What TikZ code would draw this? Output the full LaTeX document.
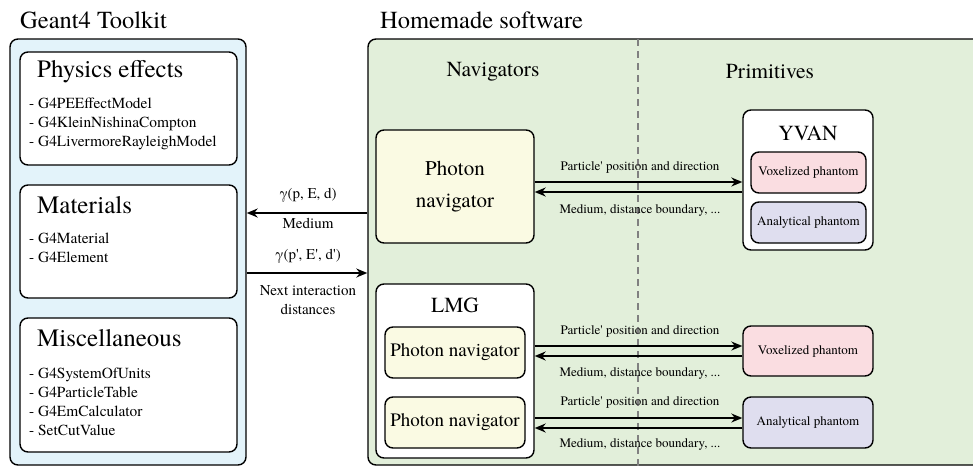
\documentclass[tikz,border=0pt]{standalone}
\usepackage{fontspec}
\setmainfont{texgyretermes-regular.otf}[Ligatures=TeXOff]
\usetikzlibrary{arrows.meta}
\newcommand{\fsz}[2]{\fontsize{#1}{#2}\selectfont}
\newcommand{\sq}{\char"0027\relax}
\definecolor{bluefill}{HTML}{E3F3FA}
\definecolor{greenfill}{HTML}{E2EFDA}
\definecolor{yellowfill}{HTML}{FAFAE3}
\definecolor{pinkfill}{HTML}{FADDE1}
\definecolor{lavfill}{HTML}{DFDEEF}
\definecolor{dashgray}{HTML}{808080}
\tikzset{
  box/.style={draw, line width=1.4pt, rounded corners=8pt, inner sep=0pt},
  arr/.style={line width=1.6pt, -{Stealth[length=11pt,width=9pt]}},
  lbl/.style={font=\fsz{13}{15}, inner sep=0pt},
  sidelbl/.style={font=\fsz{15}{19}, inner sep=0pt, align=center},
  title/.style={font=\fsz{24.5}{28}, inner sep=0pt, anchor=base west},
  head/.style={font=\fsz{25}{29}, inner sep=0pt, anchor=west},
  items/.style={font=\fsz{15.4}{19}, inner sep=0pt, anchor=west, align=left},
  sub/.style={font=\fsz{21.5}{25}, inner sep=0pt},
  phan/.style={font=\fsz{13}{15}, inner sep=0pt},
}
\begin{document}
\begin{tikzpicture}[x=1pt,y=-1pt]
\useasboundingbox (0,0) rectangle (973,466);
% titles
\node[title] (tGeant) at (20,28) {Geant4 Toolkit};
\node[title] (tHome) at (380,28) {Homemade software};
% outer boxes
\node[box, fill=bluefill, minimum width=236pt, minimum height=426pt] (blue) at (128,252) {};
\node[box, fill=greenfill, minimum width=620pt, minimum height=426pt] (green) at (678,252) {};
% dashed separator
\coordinate (dtop) at (638,39);
\coordinate (dbot) at (638,466);
\draw[dashgray, line width=1.4pt, dash pattern=on 7pt off 5pt] (dtop) -- (dbot);
% left inner boxes
\node[box, fill=white, minimum width=217pt, minimum height=113pt] (phys) at (128.5,108.5) {};
\node[head] (physT) at (37,72) {Physics effects};
\node[items] (physL) at (29,124) {- G4PEEffectModel\\- G4KleinNishinaCompton\\- G4LivermoreRayleighModel};
\node[box, fill=white, minimum width=217pt, minimum height=113pt] (mat) at (128.5,241.5) {};
\node[head] (matT) at (37,205) {Materials};
\node[items] (matL) at (29,247.5) {- G4Material\\- G4Element};
\node[box, fill=white, minimum width=217pt, minimum height=134pt] (misc) at (128.5,385) {};
\node[head] (miscT) at (37,338) {Miscellaneous};
\node[items] (miscL) at (29,401.5) {- G4SystemOfUnits\\- G4ParticleTable\\- G4EmCalculator\\- SetCutValue};
% column headings
\node[sub] (nav) at (493,72) {Navigators};
\node[sub] (prim) at (770,72) {Primitives};
% top photon navigator
\node[box, fill=yellowfill, minimum width=158pt, minimum height=113pt, align=center, font=\fsz{21}{32}] (pnav) at (455,186.5) {Photon\\navigator};
% YVAN
\node[box, fill=white, minimum width=130pt, minimum height=140pt] (yvan) at (808,180) {};
\node[sub] (yvanT) at (808,133) {YVAN};
\node[box, fill=pinkfill, minimum width=115pt, minimum height=41pt, phan] (yvox) at (808.5,172.5) {Voxelized phantom};
\node[box, fill=lavfill, minimum width=115pt, minimum height=41pt, phan] (yana) at (808.5,222.5) {Analytical phantom};
% LMG
\node[box, fill=white, minimum width=158pt, minimum height=174pt] (lmg) at (455,371) {};
\node[sub] (lmgT) at (455,305) {LMG};
\node[box, fill=yellowfill, minimum width=140pt, minimum height=51pt, font=\fsz{19}{22}] (pn1) at (455,352.5) {Photon navigator};
\node[box, fill=yellowfill, minimum width=140pt, minimum height=51pt, font=\fsz{19}{22}] (pn2) at (455,422.5) {Photon navigator};
\node[box, fill=pinkfill, minimum width=130pt, minimum height=50pt, phan] (bvox) at (808,351) {Voxelized phantom};
\node[box, fill=lavfill, minimum width=130pt, minimum height=51pt, phan] (bana) at (808,422.5) {Analytical phantom};
% Geant4 <-> homemade arrows
\coordinate (a1) at (300,213);
\coordinate (a2) at (300,273);
\draw[arr] (green.west |- a1) -- (blue.east |- a1);
\draw[arr] (blue.east |- a2) -- (green.west |- a2);
\node[sidelbl] (l1) at (308,195) {γ(p, E, d)};
\node[sidelbl] (l2) at (308,223) {Medium};
\node[sidelbl] (l3) at (308,256) {γ(p\sq, E\sq, d\sq)};
\node[sidelbl] (l4) at (308,300.5) {Next interaction\\distances};
% navigator <-> primitives arrows
\coordinate (r1) at (640,182);
\coordinate (r2) at (640,192);
\draw[arr] (pnav.east |- r1) -- (yvan.west |- r1);
\draw[arr] (yvan.west |- r2) -- (pnav.east |- r2);
\node[lbl] at (640,167) (t1) {Particle\sq{} position and direction};
\node[lbl] at (640,210) (t2) {Medium, distance boundary, ...};
\coordinate (r3) at (640,346);
\coordinate (r4) at (640,356);
\draw[arr] (lmg.east |- r3) -- (bvox.west |- r3);
\draw[arr] (bvox.west |- r4) -- (lmg.east |- r4);
\node[lbl] at (640,331) (t3) {Particle\sq{} position and direction};
\node[lbl] at (640,373) (t4) {Medium, distance boundary, ...};
\coordinate (r5) at (640,418);
\coordinate (r6) at (640,428);
\draw[arr] (lmg.east |- r5) -- (bana.west |- r5);
\draw[arr] (bana.west |- r6) -- (lmg.east |- r6);
\node[lbl] at (640,402) (t5) {Particle\sq{} position and direction};
\node[lbl] at (640,444) (t6) {Medium, distance boundary, ...};
\end{tikzpicture}
\end{document}
